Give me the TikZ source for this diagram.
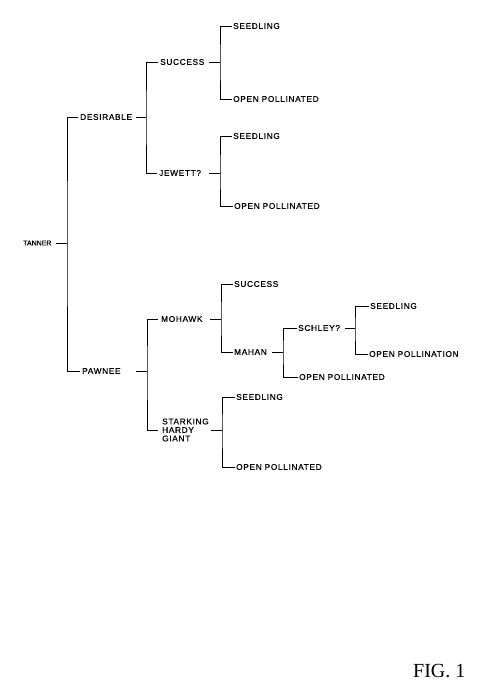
\documentclass[tikz,border=0pt]{standalone}
\usepackage{fontspec}
\setmainfont{Liberation Sans}
\newfontfamily\lblfont[LetterSpace=8,FakeBold=0.6]{Liberation Sans}
\newfontfamily\smallfont[FakeBold=0.6]{Liberation Sans}
\newfontfamily\figfont{Liberation Serif}
\begin{document}
\begin{tikzpicture}[x=1pt,y=-1pt,
  lbl/.style={anchor=west,inner sep=0pt,font=\lblfont\fontsize{8.3}{8.5}\selectfont},
  small/.style={anchor=west,inner sep=0pt,font=\smallfont\fontsize{7}{7}\selectfont},
  tree/.style={draw=black,line width=0.8pt}]
\useasboundingbox (0,0) rectangle (493,700);
% nodes
\node[small] (tanner) at (23,243) {TANNER};
\node[lbl] (desir) at (80,117) {DESIRABLE};
\node[lbl] (succ1) at (160,62) {SUCCESS};
\node[lbl] (seed1) at (233,26) {SEEDLING};
\node[lbl] (op1) at (233,99) {OPEN POLLINATED};
\node[lbl] (jew) at (159,173) {JEWETT?};
\node[lbl] (seed2) at (233,136) {SEEDLING};
\node[lbl] (op2) at (234,206) {OPEN POLLINATED};
\node[lbl] (paw) at (82,371) {PAWNEE};
\node[lbl] (moh) at (161,319) {MOHAWK};
\node[lbl] (succ2) at (234,284) {SUCCESS};
\node[lbl] (mahan) at (234,352) {MAHAN};
\node[lbl] (schley) at (298,328) {SCHLEY?};
\node[lbl] (seed3) at (370,306) {SEEDLING};
\node[lbl] (op3) at (369,354) {OPEN POLLINATION};
\node[lbl] (op4) at (299,377) {OPEN POLLINATED};
\node[lbl,align=left] (stark) at (162,430) {STARKING\\HARDY\\GIANT};
\node[lbl] (seed4) at (236,397) {SEEDLING};
\node[lbl] (op5) at (236,467) {OPEN POLLINATED};
\node[anchor=west,inner sep=0pt,font=\figfont\fontsize{20}{20}\selectfont] (fig) at (413,671) {FIG. 1};
% junctions
\coordinate (j0) at (67,243);
\coordinate (j1) at (146,117);
\coordinate (j2) at (220,62);
\coordinate (j3) at (220,173);
\coordinate (j4) at (147,371);
\coordinate (j5) at (221,319);
\coordinate (j6) at (283,352);
\coordinate (j7) at (355,328);
\coordinate (j8) at (222,430);
% connectors
\draw[tree] (j0) -- ++(-11,0);
\draw[tree] ([xshift=-2]desir.west) -| (j0) |- ([xshift=-2]paw.west);
\draw[tree] (j1) -- ++(-10,0);
\draw[tree] ([xshift=-2]succ1.west) -| (j1) |- ([xshift=-2]jew.west);
\draw[tree] (j2) -- ++(-11,0);
\draw[tree] ([xshift=-1]seed1.west) -| (j2) |- ([xshift=-1]op1.west);
\draw[tree] (j3) -- ++(-11,0);
\draw[tree] ([xshift=-1]seed2.west) -| (j3) |- ([xshift=-1]op2.west);
\draw[tree] (j4) -- ++(-11,0);
\draw[tree] ([xshift=-3]moh.west) -| (j4) |- ([xshift=-4]stark.west);
\draw[tree] (j5) -- ++(-11,0);
\draw[tree] ([xshift=-1]succ2.west) -| (j5) |- ([xshift=-1]mahan.west);
\draw[tree] (j6) -- ++(-11,0);
\draw[tree] ([xshift=-1]schley.west) -| (j6) |- ([xshift=-1]op4.west);
\draw[tree] (j7) -- ++(-10,0);
\draw[tree] ([xshift=-1]seed3.west) -| (j7) |- ([xshift=-1]op3.west);
\draw[tree] (j8) -- ++(-11,0);
\draw[tree] ([xshift=-1]seed4.west) -| (j8) |- ([xshift=-1]op5.west);
\end{tikzpicture}
\end{document}
